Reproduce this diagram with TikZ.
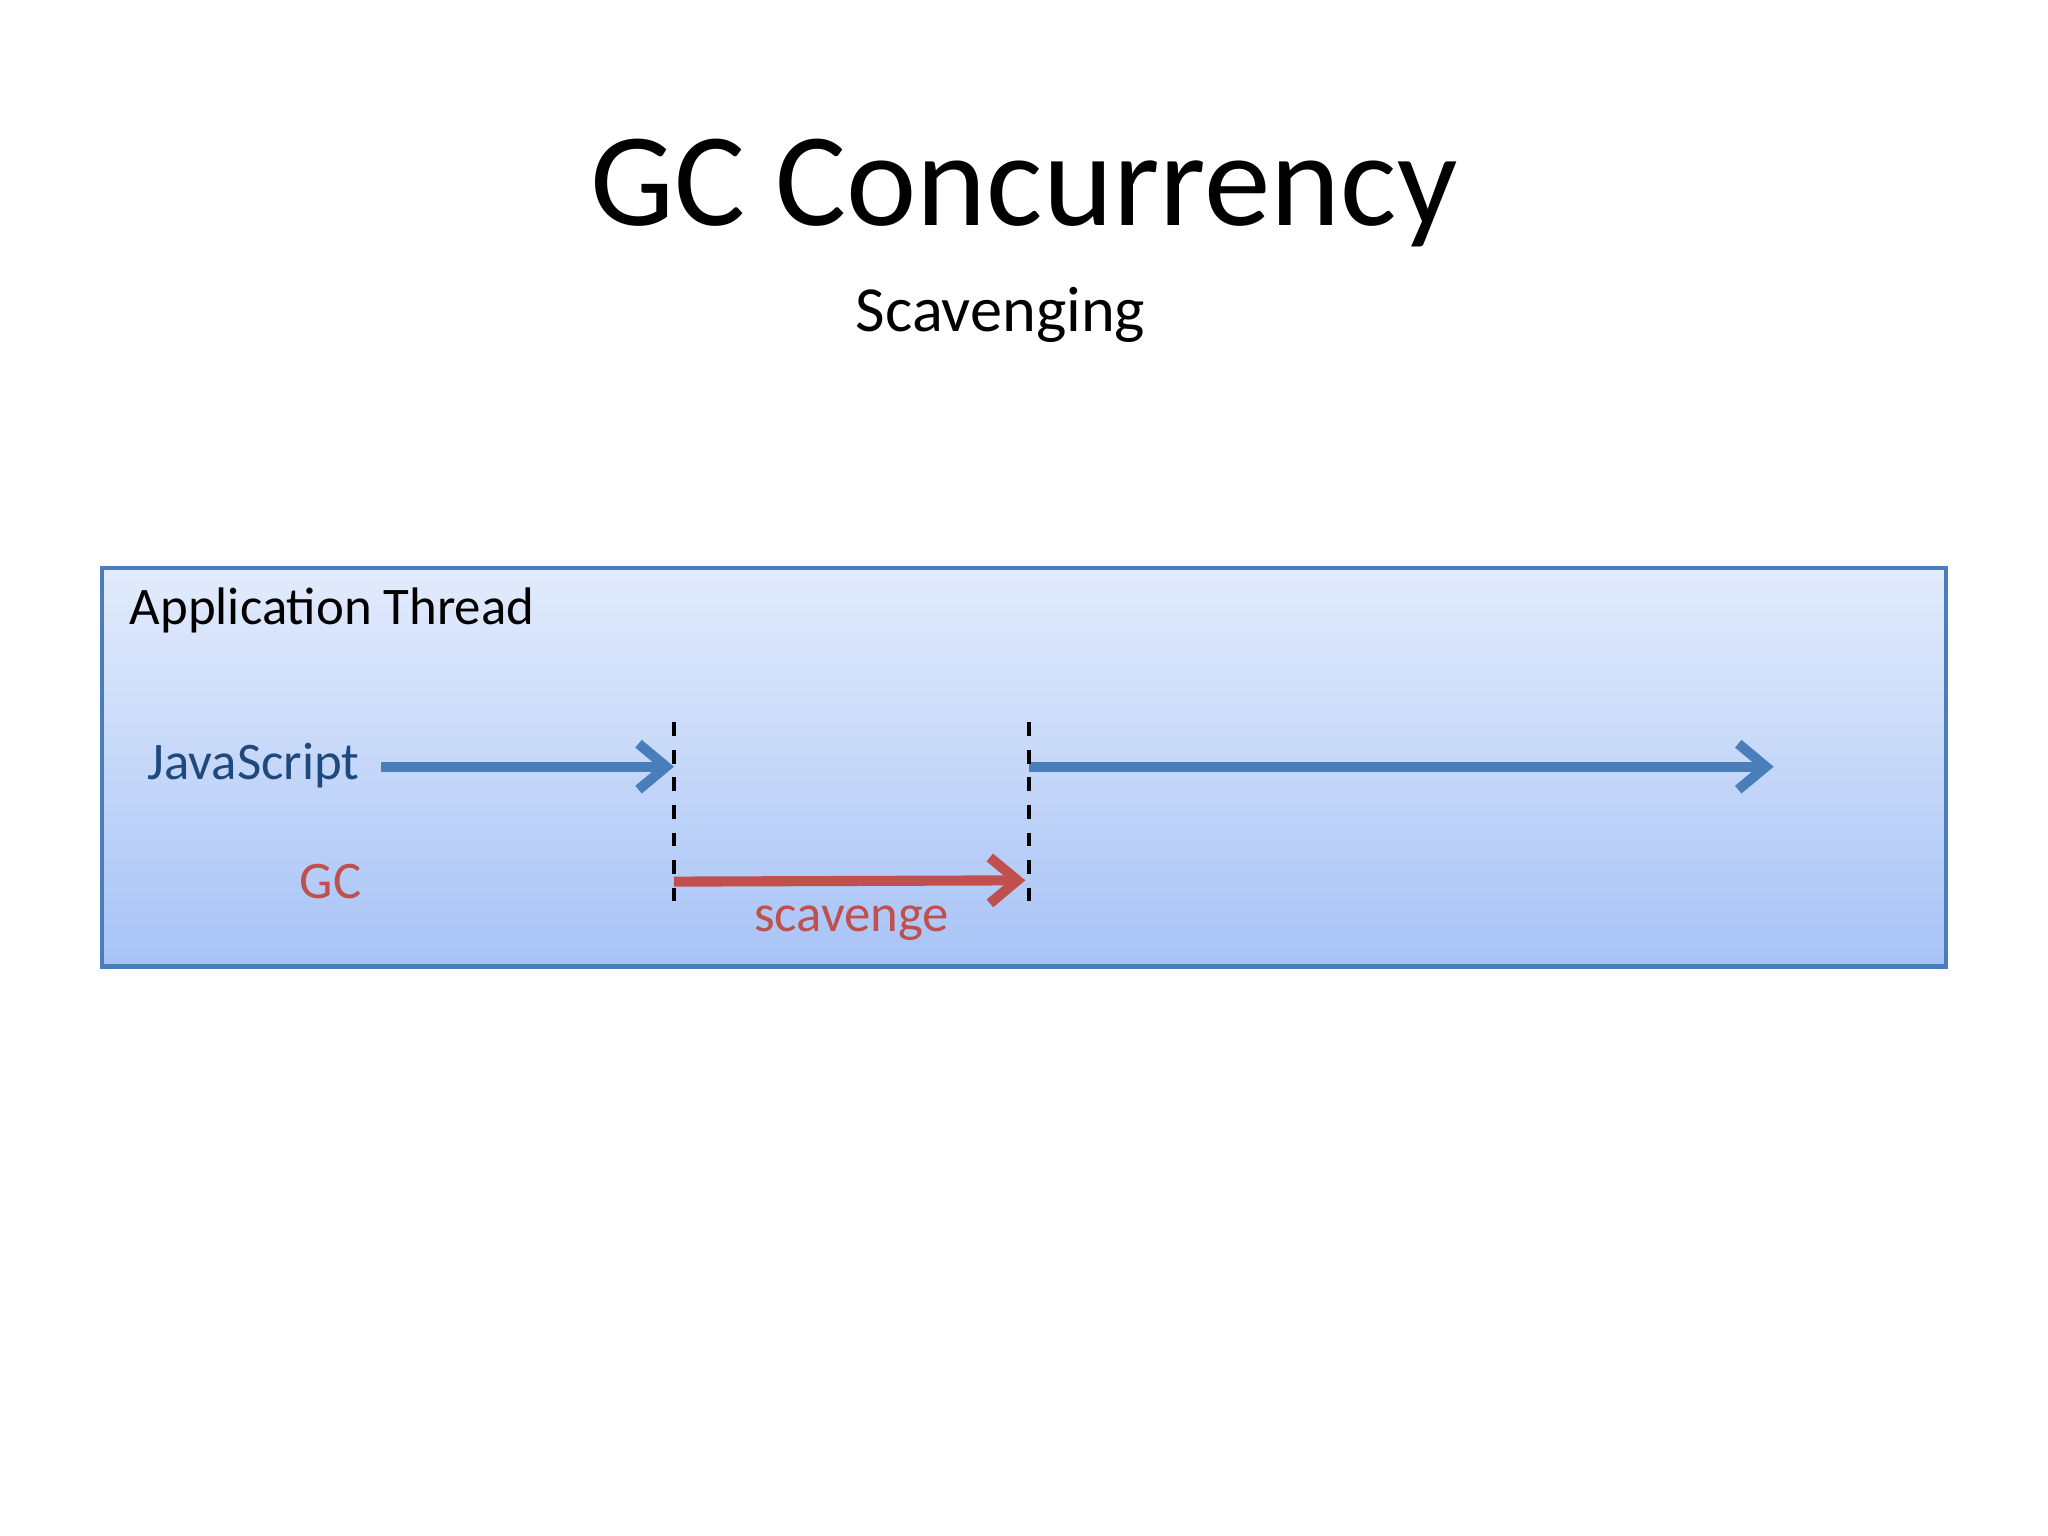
\documentclass[tikz,border=0pt]{standalone}
\usepackage{fontspec}
\setmainfont{Carlito}
\usetikzlibrary{arrows.meta}
\definecolor{jsblue}{HTML}{4A7EBB}
\definecolor{jsdark}{HTML}{1F497D}
\definecolor{gcred}{HTML}{C0504D}
\definecolor{boxtop}{HTML}{E3EBFC}
\definecolor{boxbot}{HTML}{A7C3F6}
\tikzset{
  arr/.style={line width=2.2pt,-{Straight Barb[length=6pt,width=10pt]}},
  sep/.style={dashed,line width=0.8pt,black}
}
\begin{document}
\begin{tikzpicture}[x=0.01cm,y=-0.01cm]
\useasboundingbox (0,0) rectangle (1568,1176);
\fill[white] (0,0) rectangle (1568,1176);
\shade[top color=boxtop,bottom color=boxbot,draw=jsblue,line width=1pt] (78,435) rectangle (1490,740);
\node (title) at (784,148) {\fontsize{29}{34}\selectfont GC Concurrency};
\node (sub) at (766,241) {\fontsize{14}{17}\selectfont Scavenging};
\node[anchor=west] (app) at (87,467) {\fontsize{11.5}{14}\selectfont Application Thread};
\node (js) at (194,586) {\fontsize{11.5}{14}\selectfont\color{jsdark}JavaScript};
\node (gc) at (253,675) {\fontsize{11.5}{14}\selectfont\color{gcred}GC};
\node (sc) at (652,707) {\fontsize{11.5}{14}\selectfont\color{gcred}scavenge};
\coordinate (a1) at (292,587); \coordinate (a2) at (516,587);
\coordinate (b1) at (788,587); \coordinate (b2) at (1358,587);
\coordinate (g1) at (516,675); \coordinate (g2) at (785,674);
\coordinate (d1t) at (516,553); \coordinate (d1b) at (516,700);
\coordinate (d2t) at (788,553); \coordinate (d2b) at (788,700);
\draw[arr,jsblue] (a1) -- (a2);
\draw[arr,jsblue] (b1) -- (b2);
\draw[arr,gcred] (g1) -- (g2);
\draw[sep] (d1t) -- (d1b);
\draw[sep] (d2t) -- (d2b);
\end{tikzpicture}
\end{document}
